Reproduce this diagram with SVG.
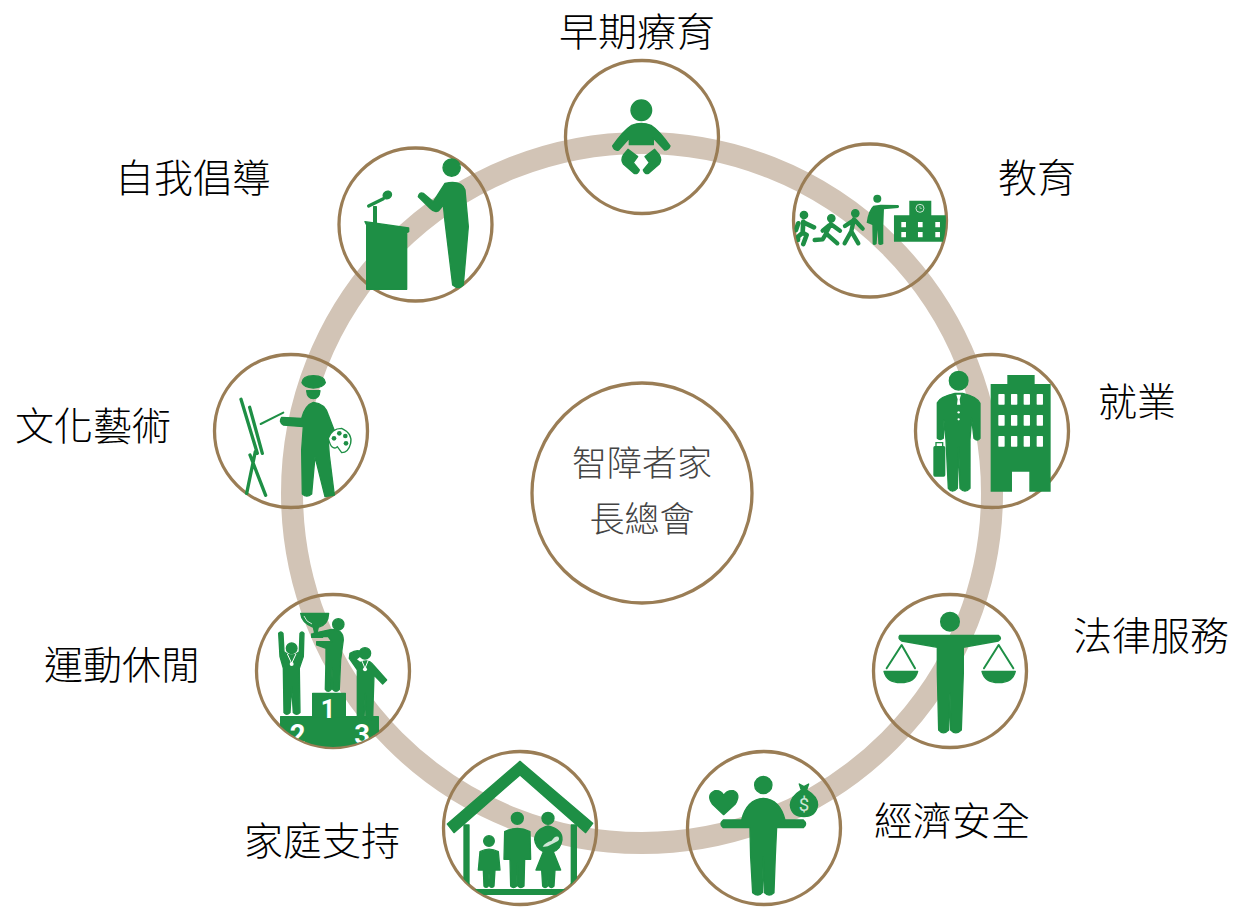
<svg xmlns="http://www.w3.org/2000/svg" width="1235" height="907" viewBox="0 0 1235 907">
<style>
.lbl{font-family:"Noto Sans CJK TC","Noto Sans CJK SC",sans-serif;font-size:39px;font-weight:300;fill:#000;text-anchor:middle}
.ctr{font-family:"Noto Sans CJK TC","Noto Sans CJK SC",sans-serif;font-size:35px;font-weight:300;fill:#444;text-anchor:middle}
.c{fill:none;stroke:#9A7D55;stroke-width:3.300}
.g{fill:#1E8F45;stroke:#1E8F45;stroke-width:4;stroke-linejoin:round}
.f{fill:#1E8F45}
.w{fill:#fff}
.l{fill:none;stroke:#1E8F45;stroke-linecap:round;stroke-linejoin:round}
.n{font-family:"Roboto","Liberation Sans",sans-serif;font-weight:700;fill:#fff;text-anchor:middle}
</style>
<defs>
<clipPath id="cpEdu"><circle cx="870" cy="220.500" r="76"/></clipPath>
<clipPath id="cpSport"><circle cx="333" cy="671" r="76"/></clipPath>
<clipPath id="cpFam"><circle cx="520" cy="828" r="76"/></clipPath>
</defs>
<rect width="1235" height="907" fill="#fff"/>
<g id="connectors"><circle cx="642" cy="493" r="350" fill="none" stroke="#D2C4B6" stroke-width="22"/></g>

<g id="center"><circle class="c" cx="642" cy="493" r="110"/>
<text class="ctr" x="642" y="476">智障者家</text><text class="ctr" x="642" y="532">長總會</text></g>

<g id="early"><circle class="c" cx="642" cy="137" r="76.500"/>
<text class="lbl" x="637" y="45.500">早期療育</text>
<g transform="translate(540,40) scale(.3333)">
<circle class="g" cx="304" cy="211" r="31"/>
<path class="g" d="M232 331Q222 330 218 318Q250 272 275 256Q304 244 333 256Q358 272 390 318Q386 330 374 330L340 294V314H268V294L236 330Z"/>
<path class="g" d="M264 328L293 350L280 368L298 390Q294 404 282 400L250 372Q242 358 250 345Z"/>
<path class="g" d="M344 328L315 350L328 368L310 390Q314 404 326 400L358 372Q366 358 358 345Z"/>
</g></g>

<g id="education"><circle class="c" cx="870" cy="220.500" r="76.500"/>
<text class="lbl" x="1037" y="192">教育</text>
<g clip-path="url(#cpEdu)"><g transform="translate(540,40) scale(.3333)">
<circle class="g" cx="792" cy="525" r="11"/>
<path class="l" stroke-width="14" d="M790 545L788 578L800 585L790 612M788 578L774 590V600M792 548L822 562M775 550L768 570"/>
<circle class="g" cx="874" cy="535" r="11"/>
<path class="l" stroke-width="13" d="M872 552L858 580L892 610M858 582L848 598L824 600M868 556L848 572M872 552L900 572"/>
<circle class="g" cx="946" cy="520" r="11"/>
<path class="l" stroke-width="13" d="M942 538L934 574L914 610M934 574L955 610M942 540L915 558M944 540L968 566"/>
<circle class="f" cx="1012" cy="476" r="12"/>
<path class="f" d="M1000 497L1022 494L1075 495Q1080 500 1075 504L1032 508L1030 560V612Q1020 618 1015 612L1013 570L1010 612Q1002 618 998 612L997 555L990 552L980 548Q985 510 1000 497Z"/>
<path class="f" fill-rule="evenodd" d="M1108 482H1174V526H1218V605H1062V526H1108ZM1084 546V562H1098V546ZM1134 546V562H1148V546ZM1186 546V562H1200V546ZM1084 576V592H1098V576ZM1134 576V592H1148V576ZM1186 576V592H1200V576Z"/>
<circle cx="1140" cy="505" r="12" fill="none" stroke="#cfe6d6" stroke-width="3"/>
<path d="M1140 498V505H1146" fill="none" stroke="#cfe6d6" stroke-width="2"/>
</g></g></g>

<g id="employment"><circle class="c" cx="992" cy="431" r="76.500"/>
<text class="lbl" x="1137" y="416">就業</text>
<g transform="translate(860,340) scale(.3333)">
<circle class="g" cx="296" cy="122" r="28"/>
<path class="g" d="M232 188Q240 170 285 160H308Q352 170 360 190V295Q352 306 342 295L335 235L330 300V445Q315 462 300 445L296 320L292 445Q277 462 265 445L258 300L252 240L250 295Q240 302 232 295Z"/>
<path class="w" d="M289 164H303L299 178L301 194H291L293 178Z"/>
<circle class="w" cx="296" cy="217" r="3.500"/><circle class="w" cx="296" cy="238" r="3.500"/>
<rect class="g" x="222" y="320" width="32" height="88" rx="3"/>
<path d="M228 320V308H248V320" fill="none" stroke="#1E8F45" stroke-width="4"/>
<path class="f" d="M442 105H524V132H572V455H508V395H456V455H392V132H442Z"/>
<g class="w"><rect x="415" y="162" width="19" height="32" rx="2"/><rect x="453" y="162" width="19" height="32" rx="2"/><rect x="491" y="162" width="19" height="32" rx="2"/><rect x="530" y="162" width="19" height="32" rx="2"/>
<rect x="415" y="225" width="19" height="32" rx="2"/><rect x="453" y="225" width="19" height="32" rx="2"/><rect x="491" y="225" width="19" height="32" rx="2"/><rect x="530" y="225" width="19" height="32" rx="2"/>
<rect x="415" y="288" width="19" height="32" rx="2"/><rect x="453" y="288" width="19" height="32" rx="2"/><rect x="491" y="288" width="19" height="32" rx="2"/><rect x="530" y="288" width="19" height="32" rx="2"/></g>
</g></g>

<g id="legal"><circle class="c" cx="950" cy="671" r="76.500"/>
<text class="lbl" x="1151" y="650">法律服務</text>
<g transform="translate(860,340) scale(.3333)">
<circle class="g" cx="270" cy="845" r="28"/>
<path class="g" d="M120 886H415Q428 895 415 903L310 922V1000L304 1170Q287 1187 272 1170L270 1060L266 1170Q250 1187 236 1170L232 1000V922L125 903Q112 895 120 886Z"/>
<path class="l" stroke-width="6" d="M80 985L125 915L165 985M372 985L416 915L460 985"/>
<path class="g" d="M72 994H173Q165 1028 122 1028Q80 1028 72 994Z"/>
<path class="g" d="M366 994H466Q458 1028 416 1028Q374 1028 366 994Z"/>
</g></g>

<g id="economic"><circle class="c" cx="764" cy="828" r="76.500"/>
<text class="lbl" x="952" y="835">經濟安全</text>
<g transform="translate(430,740) scale(.3333)">
<circle class="g" cx="1000" cy="135" r="26"/>
<path class="g" d="M1000 175Q1050 178 1065 240H1120Q1134 252 1120 263H1040L1036 350L1032 458Q1017 472 1003 458L1000 350L997 458Q985 472 968 458L962 350L960 263H880Q866 252 880 240H935Q950 178 1000 175Z"/>
<path class="g" d="M881 224L847 192Q828 164 855 152Q875 150 881 167Q890 150 910 152Q934 162 916 192Z"/>
<path class="g" d="M1108 132L1122 140L1136 132L1130 150Q1164 170 1163 195Q1158 230 1122 230Q1084 230 1081 195Q1082 170 1114 150Z"/>
<text x="1122" y="212" font-size="56" class="n" style="fill:#cfe6d6;font-weight:400">$</text>
</g></g>

<g id="family"><circle class="c" cx="520" cy="828" r="76.500"/>
<text class="lbl" x="322" y="855">家庭支持</text>
<g clip-path="url(#cpFam)"><g transform="translate(430,740) scale(.3333)">
<path class="g" d="M270 64L488 250L467 278L270 105L72 278L52 252Z"/>
<rect class="g" x="102" y="255" width="15" height="195"/>
<rect class="g" x="424" y="255" width="15" height="195"/>
<rect class="g" x="105" y="449" width="330" height="14"/>
<circle class="g" cx="177" cy="303" r="16"/>
<path class="g" d="M150 335Q177 320 205 335L210 390H195L192 438Q185 446 179 438L177 400L175 438Q168 446 162 438L160 390H145Z"/>
<circle class="g" cx="262" cy="235" r="18"/>
<path class="g" d="M224 275Q262 255 300 275L302 358H284L282 438Q272 447 264 438L262 370L260 438Q250 447 242 438L240 358H222Z"/>
<circle class="g" cx="354" cy="235" r="18"/>
<path class="g" d="M354 258Q398 268 396 300Q392 328 370 335L392 390H375L372 438Q364 447 357 438L355 400L353 438Q345 447 338 438L335 390H318L340 335Q316 322 314 298Q316 268 354 258Z"/>
<path d="M338 320Q345 308 365 302Q375 286 385 290Q392 300 378 306L362 314Q352 322 338 320Z" fill="#cfe6d6"/>
</g></g></g>

<g id="sport"><circle class="c" cx="333" cy="671" r="76.500"/>
<text class="lbl" x="122" y="679">運動休閒</text>
<g clip-path="url(#cpSport)"><g transform="translate(200,340) scale(.3333)">
<rect class="g" x="338" y="1060" width="98" height="80"/>
<rect class="g" x="242" y="1130" width="293" height="100"/>
<text class="n" x="384" y="1135" font-size="76">1</text>
<text class="n" x="293" y="1212" font-size="82">2</text>
<text class="n" x="486" y="1212" font-size="82">3</text>
<circle class="g" cx="275" cy="925" r="16"/>
<path class="g" d="M236 880Q243 872 249 880L252 935Q262 945 275 945Q288 945 298 935L300 880Q306 872 312 880L310 950L298 985L300 1118Q290 1128 280 1118L275 1040L270 1118Q260 1128 252 1118L250 985L240 950Z"/>
<path d="M262 942L275 970L288 942" fill="none" stroke="#fff" stroke-width="3"/>
<circle class="w" cx="275" cy="972" r="6"/>
<circle class="g" cx="415" cy="853" r="17"/>
<path class="g" d="M340 880L395 868Q430 868 430 900L422 960L418 1048Q408 1060 398 1048L396 985L394 1048Q384 1060 376 1048L378 960V925L350 915V905H395L385 890H345Z"/>
<path class="g" d="M302 820H386Q385 855 355 862L350 882H368V892H335V882H345L340 862Q305 850 302 820Z"/>
<path d="M312 828Q318 846 336 852" fill="none" stroke="#cfe6d6" stroke-width="3"/>
<circle class="g" cx="495" cy="940" r="17"/>
<path class="g" d="M450 940Q470 928 482 935L478 950L468 958L480 968Q505 955 520 975L560 1020L548 1032L522 1005L518 1135Q508 1145 498 1135L496 1060L492 1135Q482 1145 472 1135L472 990L448 955Z"/>
<path d="M484 958L495 985L506 958" fill="none" stroke="#fff" stroke-width="3"/>
<circle class="w" cx="495" cy="988" r="6"/>
</g></g></g>

<g id="culture"><circle class="c" cx="291" cy="431" r="76.500"/>
<text class="lbl" x="93" y="440">文化藝術</text>
<g transform="translate(200,340) scale(.3333)">
<path class="g" d="M306 128Q308 107 340 107Q374 107 376 128Q370 142 340 144Q312 142 306 128Z"/>
<path class="g" d="M320 152H360Q358 176 340 176Q322 176 320 152Z"/>
<path class="g" d="M340 187Q375 190 385 225L408 285L385 305L388 345L403 465L375 470L345 350L335 462Q320 475 307 462L305 330L310 260L250 255Q235 245 245 232L305 235Q315 195 340 187Z"/>
<path class="l" stroke-width="6" d="M182 252L250 218"/>
<path d="M385 295Q395 265 425 265Q458 280 452 310Q445 338 425 338L412 320Q395 335 385 295Z" fill="#fff" stroke="#1E8F45" stroke-width="4"/>
<circle cx="402" cy="295" r="7" fill="#1E8F45"/><circle cx="418" cy="280" r="7" fill="#1E8F45"/><circle cx="436" cy="288" r="7" fill="#1E8F45"/><circle cx="438" cy="310" r="7" fill="#1E8F45"/>
<path class="l" stroke-width="10" d="M123 178L172 340M149 202L187 340M166 335L140 460M150 345L197 466" stroke-linecap="butt"/>
</g></g>

<g id="advocacy"><circle class="c" cx="415.500" cy="224.500" r="76.500"/>
<text class="lbl" x="193" y="192">自我倡導</text>
<g transform="translate(330,140) scale(.3333)">
<circle class="g" cx="365" cy="83" r="26"/>
<path class="g" d="M345 130Q395 120 405 150L415 260L400 435Q385 450 368 435L345 245L340 195L325 213Q312 218 300 205L265 170Q268 155 280 160L310 185Z"/>
<path class="g" d="M105 245L236 264V275L230 278V448H110V255Z"/>
<path class="g" d="M131 200H139V250H131Z"/>
<path class="l" stroke-width="10" d="M116 198L160 176"/>
<ellipse class="g" cx="172" cy="165" rx="13" ry="11" transform="rotate(-30 172 165)"/>
</g></g>
</svg>
